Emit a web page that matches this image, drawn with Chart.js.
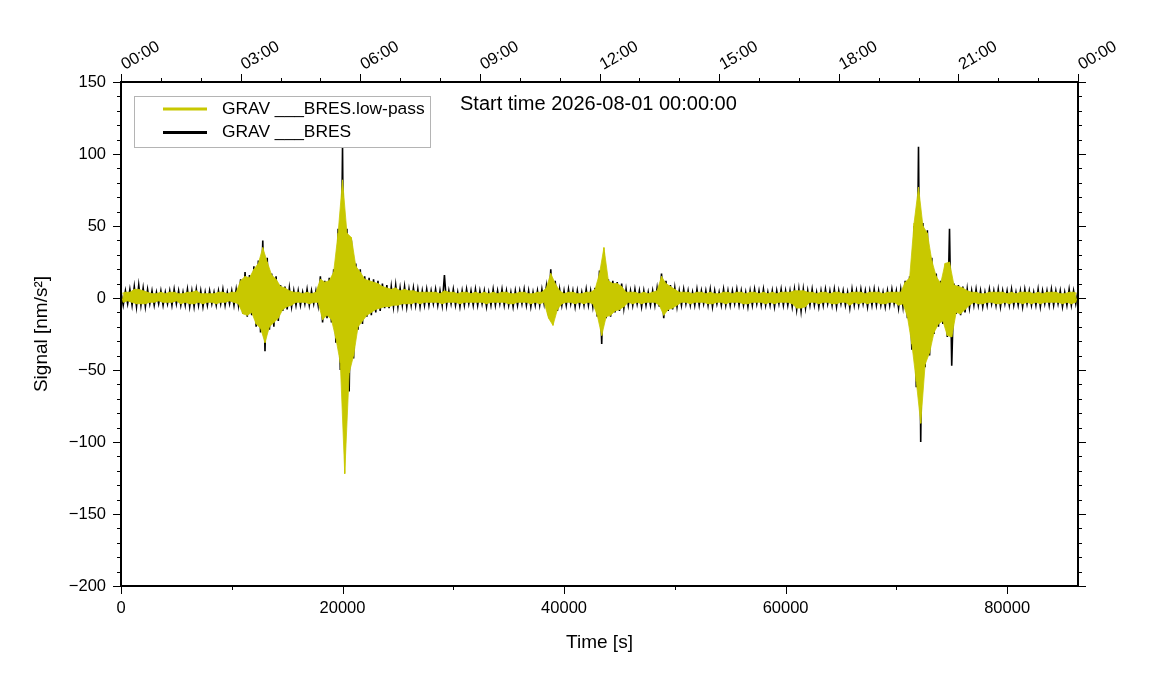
<!DOCTYPE html>
<html>
<head>
<meta charset="utf-8">
<title>GRAV BRES</title>
<script src="https://cdn.jsdelivr.net/npm/chart.js@4.4.1/dist/chart.umd.min.js"></script>
<style>
  html, body { margin: 0; padding: 0; background: #fff; }
  #wrap { width: 1151px; height: 700px; position: relative; }
</style>
</head>
<body>
<div id="wrap"><canvas id="chart"></canvas></div>
<script>
// one trace value every sampleStep seconds;
// even samples sit on the upper edge of the trace, odd ones on the lower edge
const sampleStep = 200;

const seriesNames = ['GRAV ___BRES.low-pass', 'GRAV ___BRES'];
const seriesColors = ['#c8c800', '#000000'];
const startLabel = 'Start time 2026-08-01 00:00:00';

const bottomTicks = [0, 20000, 40000, 60000, 80000];
const topTickLabels = ['00:00', '03:00', '06:00', '09:00', '12:00', '15:00', '18:00', '21:00', '00:00'];

// low-pass trace (yellow)
const lowPass = [
  3,-3,4,-2,4,-3,6,-4,6,-4,5,-4,4,-3,3,-3,3,-2,4,-3,
  3,-3,4,-3,4,-2,3,-4,3,-3,4,-4,4,-4,5,-3,3,-4,3,-3,
  3,-3,3,-4,4,-3,4,-3,3,-2,4,-3,4,-4,12,-11,15,-12,14,-10,
  20,-18,24,-21,35,-31,25,-20,16,-17,13,-14,8,-8,7,-6,5,-5,4,-3,
  4,-3,3,-3,4,-4,3,-3,4,-3,13,-15,11,-12,12,-15,18,-28,45,-45,
  82,-122,45,-52,42,-40,22,-20,18,-16,13,-12,12,-10,11,-8,10,-7,8,-6,
  7,-6,6,-5,7,-5,5,-4,6,-4,5,-4,5,-3,4,-4,4,-3,4,-3,
  4,-3,4,-3,3,-4,5,-3,4,-3,4,-3,3,-4,4,-3,4,-3,3,-3,
  4,-3,3,-3,4,-4,3,-3,4,-3,3,-3,4,-3,4,-4,3,-4,3,-3,
  4,-3,4,-3,3,-4,3,-3,4,-4,4,-3,7,-14,17,-19,10,-8,5,-4,
  3,-3,4,-3,4,-4,3,-3,3,-4,4,-3,4,-4,6,-12,17,-26,35,-13,
  12,-12,10,-9,10,-8,8,-6,4,-3,4,-4,4,-3,3,-4,4,-3,3,-3,
  4,-3,5,-5,15,-12,10,-8,8,-7,6,-5,4,-3,4,-3,4,-4,3,-3,
  4,-3,4,-3,3,-4,4,-4,3,-3,3,-3,4,-4,4,-3,3,-3,4,-3,
  4,-4,3,-4,4,-3,4,-3,3,-3,4,-4,3,-3,4,-4,3,-3,4,-3,
  4,-3,4,-4,5,-7,5,-7,5,-6,4,-3,4,-3,3,-4,4,-3,4,-3,
  3,-4,4,-4,4,-3,3,-3,3,-5,4,-3,4,-4,4,-3,3,-4,4,-3,
  4,-3,4,-4,3,-4,4,-3,4,-3,4,-5,4,-4,11,-13,14,-32,52,-58,
  77,-87,50,-46,45,-38,26,-24,15,-18,10,-16,24,-26,25,-27,9,-10,8,-11,
  7,-8,5,-5,4,-3,4,-4,3,-4,3,-3,4,-3,4,-4,4,-4,4,-3,
  3,-4,4,-3,3,-3,4,-4,4,-3,4,-4,3,-3,4,-4,3,-3,4,-3,
  4,-3,4,-3,3,-4,3,-3,4,-4,4,-3,3
];

// raw trace (black)
const rawTrace = [
  4,-5,5,-4,6,-5,8,-6,9,-5,7,-6,6,-4,5,-5,4,-4,5,-5,
  4,-4,5,-5,6,-4,5,-5,4,-5,6,-6,5,-6,6,-5,5,-6,4,-5,
  5,-4,4,-5,5,-4,6,-5,4,-4,5,-5,6,-5,13,-11,18,-13,16,-12,
  22,-20,26,-24,40,-37,28,-22,17,-20,15,-16,9,-9,8,-8,7,-6,5,-5,
  5,-5,4,-4,6,-5,5,-4,5,-5,15,-17,12,-14,14,-17,20,-31,48,-50,
  105,-92,48,-65,40,-42,24,-22,20,-18,15,-13,14,-12,13,-10,12,-9,10,-7,
  9,-7,8,-6,9,-6,7,-5,8,-6,6,-5,7,-5,6,-6,5,-5,6,-5,
  5,-4,6,-5,5,-5,16,-5,5,-4,6,-5,4,-6,5,-5,6,-4,5,-5,
  6,-5,5,-4,5,-6,4,-5,6,-5,5,-4,6,-5,5,-5,4,-6,5,-5,
  5,-4,6,-5,5,-6,4,-5,5,-5,6,-4,8,-12,20,-16,12,-9,6,-5,
  5,-5,6,-4,5,-6,5,-5,4,-5,6,-5,5,-6,7,-13,19,-32,32,-14,
  13,-13,12,-10,11,-9,10,-7,6,-5,5,-5,6,-4,5,-6,5,-5,4,-5,
  5,-5,7,-6,17,-14,12,-9,9,-8,7,-6,5,-5,6,-4,5,-5,4,-5,
  6,-5,5,-4,5,-5,6,-6,5,-4,4,-5,6,-5,5,-5,5,-4,6,-5,
  5,-5,4,-6,5,-5,6,-4,5,-5,6,-5,4,-5,5,-6,5,-4,6,-5,
  5,-5,5,-6,6,-8,6,-9,6,-7,5,-5,6,-5,4,-6,5,-5,6,-4,
  5,-5,6,-6,5,-4,5,-5,4,-7,6,-5,5,-5,6,-4,5,-6,5,-5,
  6,-5,5,-5,4,-6,5,-5,6,-4,5,-7,6,-6,12,-14,15,-36,50,-62,
  105,-100,52,-48,47,-40,28,-25,17,-20,12,-18,20,-27,48,-47,10,-11,9,-12,
  8,-10,6,-7,5,-5,6,-5,5,-6,4,-5,6,-4,5,-5,6,-6,5,-4,
  5,-5,6,-5,4,-5,5,-6,6,-4,5,-5,4,-5,6,-6,5,-4,5,-5,
  6,-5,5,-4,5,-6,4,-5,6,-5,5,-4,5
];

const toPoints = (vals) => vals.map((v, i) => ({ x: i * sampleStep, y: v }));
const upperEdge = (vals) => toPoints(vals).filter((p, i) => i % 2 === 0);
const lowerEdge = (vals) => toPoints(vals).filter((p, i) => i % 2 === 1);

const fontFamily = '"Liberation Sans", Arial, Helvetica, sans-serif';
Chart.defaults.font.family = fontFamily;
Chart.defaults.color = '#000';

const minus = (v) => (v < 0 ? '\u2212' + Math.abs(v) : String(v));

// frame, tick marks, axis labels, legend box and start-time note
const decorations = {
  id: 'decorations',
  afterDraw(chart) {
    const { ctx, chartArea: a, scales } = chart;
    ctx.save();
    ctx.strokeStyle = '#000';
    ctx.lineWidth = 1;
    ctx.beginPath();
    for (let v = scales.y.min; v <= scales.y.max; v += 10) {
      const y = Math.round(scales.y.getPixelForValue(v)) + 0.5;
      const len = v % 50 === 0 ? 8 : 4;
      ctx.moveTo(a.left - len, y); ctx.lineTo(a.left, y);
      ctx.moveTo(a.right, y); ctx.lineTo(a.right + len, y);
    }
    for (let t = 0; t <= 86400; t += 10000) {
      const x = Math.round(scales.x.getPixelForValue(t)) + 0.5;
      const len = t % 20000 === 0 ? 8 : 4;
      ctx.moveTo(x, a.bottom); ctx.lineTo(x, a.bottom + len);
    }
    for (let t = 0; t <= 86400; t += 3600) {
      const x = Math.round(scales.xTop.getPixelForValue(t)) + 0.5;
      const len = t % 10800 === 0 ? 8 : 4;
      ctx.moveTo(x, a.top); ctx.lineTo(x, a.top - len);
    }
    ctx.stroke();

    ctx.fillStyle = '#000';
    ctx.font = '16.5px ' + fontFamily;

    // seconds along the bottom
    ctx.textAlign = 'center';
    ctx.textBaseline = 'middle';
    bottomTicks.forEach((t) => {
      ctx.fillText(String(t), scales.x.getPixelForValue(t), a.bottom + 22);
    });

    // rotated clock labels on the top axis
    ctx.textAlign = 'left';
    ctx.textBaseline = 'alphabetic';
    topTickLabels.forEach((lab, k) => {
      const x = scales.xTop.getPixelForValue(k * 10800);
      ctx.save();
      ctx.translate(x + 4, a.top - 12);
      ctx.rotate(-Math.PI / 6);
      ctx.fillText(lab, 0, 0);
      ctx.restore();
    });

    // legend
    const bx = a.left + 13, by = a.top + 14, bw = 296, bh = 51;
    ctx.fillStyle = '#fff';
    ctx.fillRect(bx, by, bw, bh);
    ctx.strokeStyle = '#b4b4b4';
    ctx.lineWidth = 1;
    ctx.strokeRect(bx + 0.5, by + 0.5, bw, bh);
    ctx.font = '17.4px ' + fontFamily;
    ctx.textBaseline = 'middle';
    seriesNames.forEach((name, k) => {
      const ly = by + 13 + k * 23.5;
      ctx.strokeStyle = seriesColors[k];
      ctx.lineWidth = 3;
      ctx.beginPath();
      ctx.moveTo(a.left + 42, ly);
      ctx.lineTo(a.left + 86, ly);
      ctx.stroke();
      ctx.fillStyle = '#000';
      ctx.fillText(name, a.left + 101, ly);
    });

    ctx.font = '20px ' + fontFamily;
    ctx.fillText(startLabel, a.left + 339, a.top + 22);

    // frame
    ctx.strokeStyle = '#000';
    ctx.lineWidth = 2;
    ctx.strokeRect(a.left, a.top, a.right - a.left, a.bottom - a.top);
    ctx.restore();
  }
};

// drawn last to first: black trace, then yellow band, then yellow trace on top
new Chart(document.getElementById('chart'), {
  type: 'line',
  data: {
    datasets: [
      { label: seriesNames[0], data: toPoints(lowPass), borderColor: seriesColors[0], borderWidth: 1, fill: false },
      { label: seriesNames[0] + ' upper', data: upperEdge(lowPass), borderColor: seriesColors[0],
        backgroundColor: seriesColors[0], borderWidth: 0.8, fill: '+1' },
      { label: seriesNames[0] + ' lower', data: lowerEdge(lowPass), borderColor: seriesColors[0],
        borderWidth: 0.8, fill: false },
      { label: seriesNames[1], data: toPoints(rawTrace), borderColor: seriesColors[1], borderWidth: 1.6, fill: false }
    ]
  },
  options: {
    responsive: true,
    maintainAspectRatio: false,
    animation: false,
    events: [],
    elements: { point: { radius: 0 }, line: { tension: 0 } },
    layout: { padding: 0, autoPadding: false },
    plugins: {
      legend: { display: false }, title: { display: false }, tooltip: { enabled: false },
      filler: { propagate: false }
    },
    scales: {
      x: {
        type: 'linear', position: 'bottom', min: 0, max: 86400,
        grid: { display: false, drawTicks: false }, border: { display: false },
        ticks: { display: false },
        title: { display: true, text: 'Time [s]', font: { size: 19 }, padding: { bottom: 46 } },
        afterFit: (s) => { s.height = 114; }
      },
      xTop: {
        type: 'linear', position: 'top', min: 0, max: 86400,
        grid: { display: false, drawTicks: false }, border: { display: false },
        ticks: { display: false },
        afterFit: (s) => { s.height = 82; }
      },
      y: {
        type: 'linear', position: 'left', min: -200, max: 150,
        grid: { display: false, drawTicks: false }, border: { display: false },
        ticks: { stepSize: 50, padding: 15, font: { size: 16.5 }, callback: minus },
        title: { display: true, text: 'Signal [nm/s\u00b2]', font: { size: 19 }, padding: { top: 30 } },
        afterFit: (s) => { s.width = 121; }
      },
      yRight: {
        type: 'linear', position: 'right', min: -200, max: 150,
        grid: { display: false, drawTicks: false }, border: { display: false },
        ticks: { display: false },
        afterFit: (s) => { s.width = 73; }
      }
    }
  },
  plugins: [decorations]
});
</script>
</body>
</html>
